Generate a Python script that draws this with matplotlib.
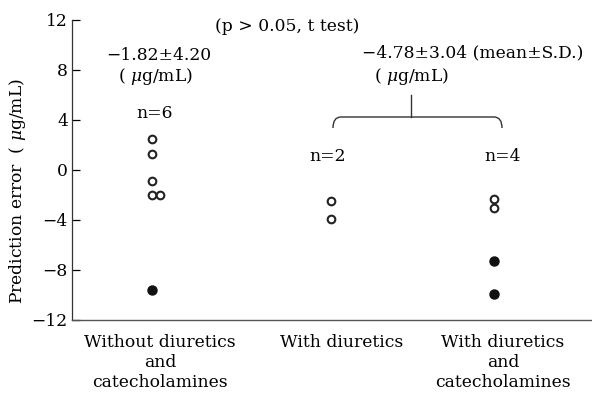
import matplotlib
matplotlib.use('Agg')
import matplotlib.pyplot as plt
from matplotlib.path import Path
from matplotlib.patches import PathPatch

plt.rcParams['font.family'] = 'DejaVu Serif'
plt.rcParams['mathtext.fontset'] = 'dejavuserif'

# data
groups = ['Without diuretics\nand\ncatecholamines', 'With diuretics',
          'With diuretics\nand\ncatecholamines']
open_vals = [[2.5, 1.3, -0.9, -2.0, -2.0], [-2.5, -3.9], [-2.3, -3.0]]
filled_vals = [[-9.6], [], [-7.3, -9.9]]
counts = [6, 2, 4]
y_ticks = [-12, -8, -4, 0, 4, 8, 12]

# layout (x positions in axis units)
pt_x = [0.80, 2.59, 4.22]
lab_x = [0.88, 2.70, 4.31]
n_x = [0.83, 2.56, 4.31]
# small horizontal shift for overlapping points
jitter = [[0, 0, 0, 0, 0.08], [0, 0], [0, 0]]

fig = plt.figure(figsize=(5.92, 3.94), dpi=100)
ax = fig.add_axes([72/592, 1-320/394, 520/592, 300/394])
fs = 12.3

for i in range(3):
    xs = [pt_x[i] + d for d in jitter[i]]
    ax.plot(xs, open_vals[i], 'o', ms=5.5, mfc='white', mec='#222222', mew=1.5, ls='none')
    if filled_vals[i]:
        ax.plot([pt_x[i]] * len(filled_vals[i]), filled_vals[i], 'o', ms=6.5,
                color='#111111', ls='none')
    ax.text(n_x[i], 4.55 if i == 0 else 1.05, 'n=%d' % counts[i], ha='center',
            va='center', fontsize=fs)

ax.set_xlim(0, 5.2)
ax.set_ylim(-12, 12)
ax.set_yticks(y_ticks)
ax.set_yticklabels([('\u2212%d' % -t) if t < 0 else str(t) for t in y_ticks], fontsize=fs)
ax.set_xticks(lab_x)
ax.set_xticklabels(groups, fontsize=fs, linespacing=1.25)
ax.tick_params(axis='x', length=0, pad=10)
ax.tick_params(axis='y', direction='in', length=6, width=0.9, pad=3)
for s in ['top', 'right']:
    ax.spines[s].set_visible(False)
ax.spines['left'].set_color('#333333')
ax.spines['bottom'].set_color('#555555')
ax.spines['left'].set_linewidth(0.9)
ax.spines['bottom'].set_linewidth(1.0)

ax.set_ylabel('Prediction error  ( $\\mu$g/mL)', fontsize=fs)
ax.yaxis.set_label_coords(-0.085, 0.43)

# annotations
ax.text(2.15, 11.45, '(p > 0.05, t test)', ha='center', va='center', fontsize=fs)
ax.text(0.87, 9.2, '\u22121.82\u00b14.20', ha='center', va='center', fontsize=fs)
ax.text(0.83, 7.5, '( $\\mu$g/mL)', ha='center', va='center', fontsize=fs)
ax.text(4.01, 9.35, '\u22124.78\u00b13.04 (mean\u00b1S.D.)', ha='center', va='center', fontsize=fs)
ax.text(3.39, 7.5, '( $\\mu$g/mL)', ha='center', va='center', fontsize=fs)

# bracket joining the two diuretic groups
bx0, bx1, bmid = 2.61, 4.30, 3.39
ytop, ybar, yend = 6.0, 4.24, 3.36
r = 0.08
verts = [(bx0, yend), (bx0, ybar), (bx0 + r, ybar), (bx1 - r, ybar),
         (bx1, ybar), (bx1, yend)]
codes = [Path.MOVETO, Path.CURVE3, Path.CURVE3, Path.LINETO, Path.CURVE3, Path.CURVE3]
ax.add_patch(PathPatch(Path(verts, codes), fill=False, lw=1.0, ec='#333333', clip_on=False))
ax.plot([bmid, bmid], [ybar, ytop], color='#333333', lw=1.0, clip_on=False)

fig.savefig('out.png', dpi=100)
